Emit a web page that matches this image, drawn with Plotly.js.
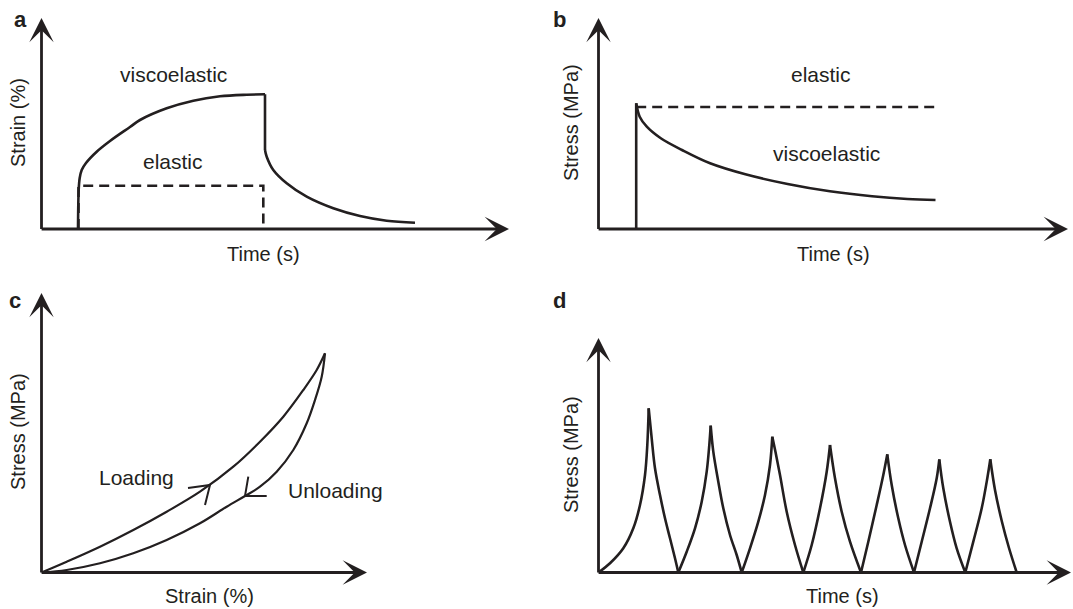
<!DOCTYPE html>
<html>
<head>
<meta charset="utf-8">
<script src="https://cdn.plot.ly/plotly-3.0.1.min.js"></script>
<style>html,body{margin:0;padding:0;background:#fff;}#chart{width:1073px;height:609px;}</style>
</head>
<body>
<div id="chart"></div>
<script>
// ---------- data (schematic units) ----------
// Panel a: creep (strain vs time)
const aViscoTime   = [3.65, 3.72, 3.82, 4.02, 4.45, 5.52, 6.85, 8.85, 9.85, 12.52, 15.18, 17.85, 20.52, 22.35, 22.35, 22.52, 23.18, 24.52, 26.52, 29.18, 31.85, 34.52, 37.35];
const aViscoStrain = [0, 3.9, 5.1, 5.9, 6.6, 7.73, 8.8, 10.2, 10.9, 12.07, 12.83, 13.27, 13.43, 13.47, 7.9, 7.23, 5.9, 4.57, 3.23, 2.07, 1.3, 0.83, 0.63];
const aViscoCorners = [13, 14];
const aElasticTime   = [3.7, 3.7, 22.18, 22.18];
const aElasticStrain = [0, 4.33, 4.33, 0];
// Panel b: stress relaxation (stress vs time)
const bViscoTime   = [3.77, 3.77, 4.12, 4.83, 6.23, 8.35, 11.16, 14.69, 18.91, 23.14, 27.36, 30.88, 33.7];
const bViscoStress = [0, 12.57, 11.23, 10.23, 9.07, 7.9, 6.57, 5.47, 4.5, 3.77, 3.27, 3.0, 2.9];
const bViscoCorners = [1];
const bElasticTime   = [3.77, 33.98];
const bElasticStress = [12.2, 12.2];
// Panel c: hysteresis (stress vs strain)
const cLoadStrain   = [0, 2.52, 5.85, 9.18, 12.52, 15.85, 19.18, 21.85, 24.18, 26.18, 27.52, 28.35];
const cLoadStress   = [0, 1.08, 2.58, 4.25, 6.08, 8.08, 10.58, 13.08, 15.58, 18.25, 20.25, 21.92];
const cUnloadStrain = [28.35, 28.02, 27.35, 26.52, 25.18, 23.52, 21.85, 20.35, 18.52, 15.85, 12.52, 9.18, 5.85, 2.52, 0];
const cUnloadStress = [21.92, 19.58, 17.25, 14.92, 12.25, 10.08, 8.58, 7.65, 6.58, 4.92, 3.25, 1.92, 0.92, 0.25, 0];
const cLoadChevronX   = [14.65, 16.85, 16.35];
const cLoadChevronY   = [8.45, 8.75, 6.75];
const cUnloadChevronX = [22.52, 20.35, 20.68];
const cUnloadChevronY = [7.65, 7.65, 9.58];
// Panel d: cyclic loading (stress vs time)
const dTime   = [0, 1.15, 2.48, 3.48, 4.15, 4.65, 4.88, 5.02,
                 5.32, 5.65, 6.15, 6.65, 7.15, 7.65, 7.98,
                 8.82, 9.65, 10.32, 10.82, 11.08, 11.22,
                 11.48, 11.98, 12.48, 13.15, 13.82, 14.32,
                 15.15, 15.98, 16.65, 17.15, 17.38,
                 17.7, 18.15, 18.82, 19.65, 20.48,
                 21.32, 22.15, 22.82, 23.15,
                 23.65, 24.32, 25.15, 26.25,
                 26.98, 27.82, 28.48, 28.88,
                 29.32, 29.98, 30.65, 31.55,
                 32.32, 33.15, 33.82, 34.08,
                 34.48, 35.15, 35.82, 36.68,
                 37.48, 38.32, 38.88, 39.18,
                 39.65, 40.35, 41.05, 41.82];
const dStress = [0, 0.92, 2.42, 4.42, 6.75, 9.75, 12.75, 16.42,
                 13.42, 10.42, 7.75, 5.42, 3.42, 1.42, 0,
                 2.08, 4.42, 7.08, 10.08, 12.75, 14.68,
                 12.08, 9.08, 6.42, 3.75, 1.75, 0,
                 2.42, 5.08, 7.75, 10.75, 13.58,
                 12.05, 9.75, 6.08, 2.75, 0,
                 2.75, 6.42, 10.08, 12.75,
                 9.42, 6.08, 3.08, 0,
                 3.08, 6.75, 9.75, 11.82,
                 8.75, 5.42, 2.75, 0,
                 3.08, 6.42, 9.42, 11.32,
                 8.42, 5.08, 2.42, 0,
                 3.08, 6.42, 9.42, 11.32,
                 8.25, 5.05, 2.45, 0];

const panelLetters = ['a', 'b', 'c', 'd'];
const xTitles = ['Time (s)', 'Time (s)', 'Strain (%)', 'Time (s)'];
const yTitles = ['Strain (%)', 'Stress (MPa)', 'Stress (MPa)', 'Stress (MPa)'];

// ---------- layout helpers ----------
const W = 1073, H = 609;
const INK = '#231f20';
const FONT = 'Liberation Sans, Arial, Helvetica, sans-serif';
// pixel boxes of each panel: [left, right, top, bottom] (axis origin at left/bottom, arrow tips at right/top)
const boxes = [
  [41.5, 509, 18, 229],
  [598.5, 1068, 18, 229],
  [41.5, 367, 293, 572.5],
  [598.5, 1071, 338, 572.5]
];
const layout = {
  width: W, height: H,
  margin: {l: 0, r: 0, t: 0, b: 0},
  paper_bgcolor: '#ffffff', plot_bgcolor: 'rgba(0,0,0,0)',
  showlegend: false,
  font: {family: FONT, color: INK, size: 20},
  annotations: []
};
boxes.forEach((b, i) => {
  const n = i === 0 ? '' : String(i + 1);
  const xr = (b[1] - b[0]) / 10, yr = (b[3] - b[2]) / 10;
  layout['xaxis' + n] = {domain: [b[0] / W, b[1] / W], range: [0, xr], visible: false, fixedrange: true, anchor: 'y' + n};
  layout['yaxis' + n] = {domain: [1 - b[3] / H, 1 - b[2] / H], range: [0, yr], visible: false, fixedrange: true, anchor: 'x' + n};
  const xa = 'x' + n, ya = 'y' + n;
  // axis arrows
  const arrow = {xref: xa, yref: ya, axref: xa, ayref: ya, text: '', showarrow: true,
    arrowhead: 3, arrowsize: 1.45, arrowwidth: 2.8, arrowcolor: INK, standoff: 0};
  layout.annotations.push(Object.assign({x: xr, y: 0, ax: -0.14, ay: 0}, arrow));
  layout.annotations.push(Object.assign({x: 0, y: yr, ax: 0, ay: -0.14}, arrow));
});
function P(px, py) { return {x: px / W, y: 1 - py / H}; }
function label(text, px, py, opts) {
  const p = P(px, py);
  layout.annotations.push(Object.assign({xref: 'paper', yref: 'paper', x: p.x, y: p.y, text: text,
    showarrow: false, xanchor: 'center', yanchor: 'middle', font: {family: FONT, size: 20, color: INK}}, opts || {}));
}
// panel letters
const letterPos = [[20, 20], [560, 20], [15, 301], [560, 301]];
panelLetters.forEach((t, i) => label('<b>' + t + '</b>', letterPos[i][0], letterPos[i][1], {font: {family: FONT, size: 22, color: INK}}));
// axis titles
const xTitlePos = [[263, 254], [833, 254], [209, 596], [842, 596]];
const yTitlePos = [[18, 123], [571, 123], [18, 432], [571, 455]];
xTitles.forEach((t, i) => label(t, xTitlePos[i][0], xTitlePos[i][1]));
yTitles.forEach((t, i) => label(t, yTitlePos[i][0], yTitlePos[i][1], {textangle: -90}));
// curve labels
const big = {font: {family: FONT, size: 21, color: INK}};
label('viscoelastic', 173.5, 75, big);
label('elastic', 173, 161, big);
label('elastic', 821, 75, big);
label('viscoelastic', 826, 153, big);
label('Loading', 136, 477, big);
label('Unloading', 335, 490, big);

// ---------- traces ----------
const solid = {color: INK, width: 2.6};
const dashed = {color: INK, width: 2.6, dash: '10px,6px'};
function tr(x, y, axn, line) {
  return {type: 'scatter', mode: 'lines', x: x, y: y, xaxis: 'x' + axn, yaxis: 'y' + axn, line: line, hoverinfo: 'skip', cliponaxis: false};
}
// split a polyline at the given corner indices; each piece is drawn as a smooth spline
function pieces(x, y, corners, axn, line) {
  const cuts = [0].concat(corners, [x.length - 1]);
  const out = [];
  for (let k = 0; k < cuts.length - 1; k++) {
    const s = cuts[k], e = cuts[k + 1];
    if (e <= s) continue;
    const shape = (e - s) >= 2 ? 'spline' : 'linear';
    out.push(tr(x.slice(s, e + 1), y.slice(s, e + 1), axn, Object.assign({}, line, {shape: shape, smoothing: 1})));
  }
  return out;
}
// corners of the cyclic curve = peaks and valleys (direction changes)
const dCorners = [];
for (let i = 1; i < dStress.length - 1; i++) {
  if ((dStress[i] - dStress[i - 1]) * (dStress[i + 1] - dStress[i]) < 0) dCorners.push(i);
}
const data = [].concat(
  [tr(aElasticTime, aElasticStrain, '', dashed)],
  pieces(aViscoTime, aViscoStrain, aViscoCorners, '', solid),
  [tr(bElasticTime, bElasticStress, '2', dashed)],
  pieces(bViscoTime, bViscoStress, bViscoCorners, '2', solid),
  pieces(cLoadStrain, cLoadStress, [], '3', {color: INK, width: 2.2}),
  pieces(cUnloadStrain, cUnloadStress, [], '3', {color: INK, width: 2.2}),
  [tr(cLoadChevronX, cLoadChevronY, '3', {color: INK, width: 2})],
  [tr(cUnloadChevronX, cUnloadChevronY, '3', {color: INK, width: 2})],
  pieces(dTime, dStress, dCorners, '4', {color: INK, width: 2.6})
);
Plotly.newPlot('chart', data, layout, {staticPlot: true, displayModeBar: false});
</script>
</body>
</html>
